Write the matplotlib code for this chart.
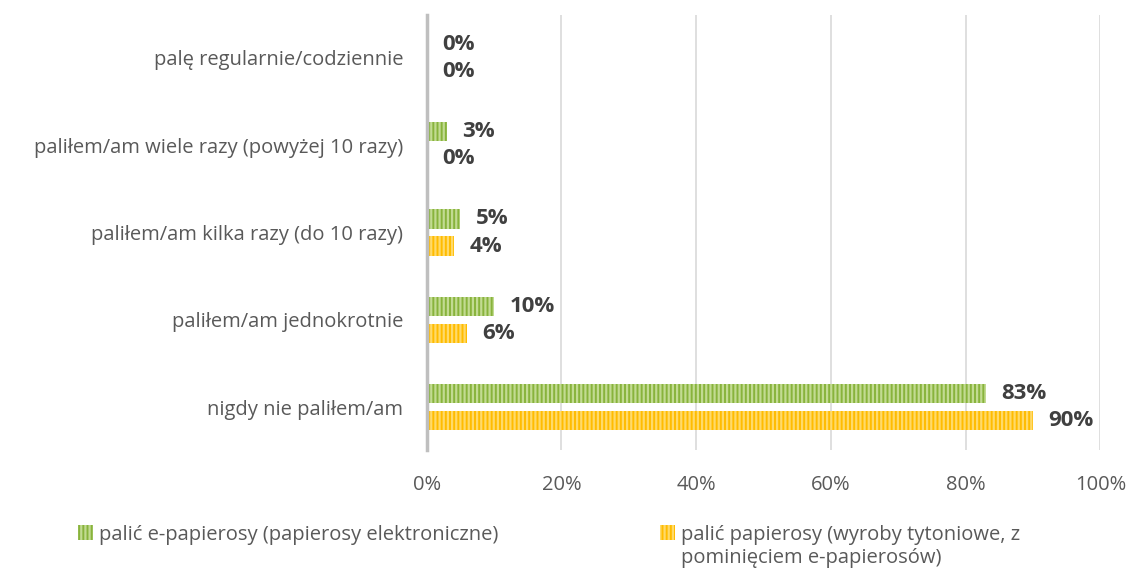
import matplotlib.pyplot as plt
import numpy as np

plt.rcParams['font.family'] = ['Open Sans', 'DejaVu Sans']
plt.rcParams['hatch.linewidth'] = 1.6

# data (bottom to top as drawn)
categories = ['nigdy nie paliłem/am', 'paliłem/am jednokrotnie',
              'paliłem/am kilka razy (do 10 razy)',
              'paliłem/am wiele razy (powyżej 10 razy)',
              'palę regularnie/codziennie']
e_cig = [83, 10, 5, 3, 0]
cig = [90, 6, 4, 0, 0]
series_names = ['palić e-papierosy (papierosy elektroniczne)',
                'palić papierosy (wyroby tytoniowe, z',
                'pominięciem e-papierosów)']

fig = plt.figure(figsize=(11.32, 5.74), dpi=100)
ax = fig.add_axes([0.377, 0.216, 0.595, 0.758])

y = np.arange(len(categories))
h = 0.22
off = 0.155
b1 = ax.barh(y + off, e_cig, height=h, color='#88B33C', edgecolor='#C2DB92',
             hatch='||||', linewidth=0, label=series_names[0], zorder=3)
b2 = ax.barh(y - off, cig, height=h, color='#FFBC00', edgecolor='#FFDA6A',
             hatch='||||', linewidth=0, label=series_names[1], zorder=3)

for bars, vals in ((b1, e_cig), (b2, cig)):
    for bar, v in zip(bars, vals):
        ax.text(v + 2.3, bar.get_y() + bar.get_height() / 2, f'{v}%',
                va='center', ha='left', fontsize=16, fontweight='bold',
                color='#404040', zorder=4)

ax.set_xlim(0, 100)
ax.set_ylim(-0.49, 4.49)
ax.set_xticks(range(0, 101, 20))
ax.set_xticklabels([f'{t}%' for t in range(0, 101, 20)])
ax.set_yticks(y)
ax.set_yticklabels(categories)
ax.tick_params(axis='both', length=0, labelsize=14.5, colors='#595959')
ax.tick_params(axis='x', pad=18)
ax.tick_params(axis='y', pad=17)
ax.grid(axis='x', color='#D9D9D9', linewidth=1.2, zorder=0)
for s in ['top', 'right', 'bottom']:
    ax.spines[s].set_visible(False)
ax.spines['left'].set_color('#BFBFBF')
ax.spines['left'].set_linewidth(2.5)
ax.spines['left'].set_zorder(5)

legend_kw = dict(loc='upper left', frameon=False, fontsize=14.5,
                 labelcolor='#595959', handlelength=0.75, handleheight=0.75,
                 handletextpad=0.3, borderaxespad=0, borderpad=0)
leg1 = fig.legend(handles=[b1], bbox_to_anchor=(0.069, 0.086), **legend_kw)
leg2 = fig.legend(handles=[b2], bbox_to_anchor=(0.583, 0.086), **legend_kw)

fig.canvas.draw()
tb = leg2.get_texts()[0].get_window_extent()
x0, y0 = fig.transFigure.inverted().transform((tb.x0, tb.y0))
fig.text(x0, y0 - 0.005, series_names[2], ha='left', va='top', fontsize=14.5,
         color='#595959')

fig.savefig('out.png', dpi=100, facecolor='white')
